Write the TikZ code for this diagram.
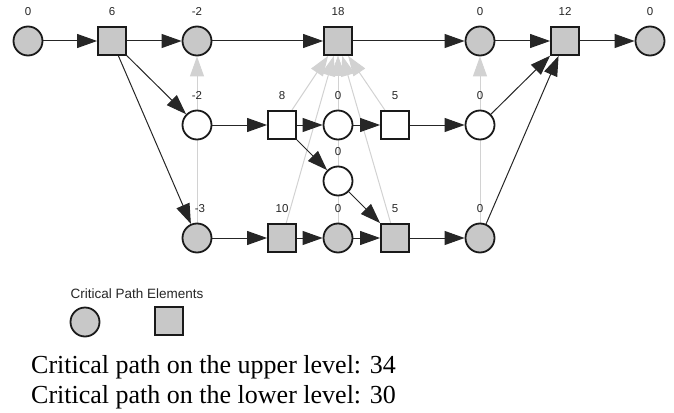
\documentclass[tikz,border=0pt]{standalone}
\usepackage{fontspec}
\setmainfont{Liberation Serif}
\newfontfamily\lblfont{Liberation Sans}
\usetikzlibrary{arrows.meta,backgrounds}
\definecolor{critfill}{RGB}{200,200,200}
\definecolor{softedge}{RGB}{210,210,210}
\definecolor{outline}{RGB}{26,26,26}

\begin{document}
\begin{tikzpicture}[x=1pt,y=1pt,
  place/.style={circle,draw=outline,line width=1.8pt,minimum size=29pt,inner sep=0pt,fill=white},
  trans/.style={rectangle,draw=outline,line width=1.8pt,minimum size=28pt,inner sep=0pt,fill=white},
  crit/.style={fill=critfill},
  tag/.style={font=\lblfont\fontsize{11.5}{12}\selectfont,inner sep=0pt,text=black!85},
  every label/.style={tag},
  label distance=10pt,
  flow/.style={draw=black!85,line width=1pt,-{Triangle[length=20pt,width=14pt]}},
  shadow/.style={draw=softedge,line width=1pt,-{Triangle[length=20pt,width=14pt]}}
]
\useasboundingbox (0,0) rectangle (674,-412);

% upper level
\node[place,crit,label=above:0]  (p1) at (28,-41) {};
\node[trans,crit,label=above:6]  (t1) at (112,-41) {};
\node[place,crit,label=above:-2] (p2) at (197,-41) {};
\node[trans,crit,label=above:18] (t2) at (338,-41) {};
\node[place,crit,label=above:0]  (p3) at (480,-41) {};
\node[trans,crit,label=above:12] (t3) at (565,-41) {};
\node[place,crit,label=above:0]  (p4) at (650,-41) {};

% middle level
\node[place,label=above:-2] (m1) at (197,-125) {};
\node[trans,label=above:8]  (m2) at (282,-125) {};
\node[place,label=above:0]  (m3) at (338,-125) {};
\node[trans,label=above:5]  (m4) at (395,-125) {};
\node[place,label=above:0]  (m5) at (480,-125) {};
\node[place,label=above:0]  (c1) at (338,-181) {};

% lower level
\node[place,crit,label={[xshift=3pt]above:-3}] (b1) at (197,-238) {};
\node[trans,crit,label=above:10] (b2) at (282,-238) {};
\node[place,crit,label=above:0]  (b3) at (338,-238) {};
\node[trans,crit,label=above:5]  (b4) at (395,-238) {};
\node[place,crit,label=above:0]  (b5) at (480,-238) {};

% legend
\node[tag,font=\lblfont\fontsize{13.5}{14}\selectfont] (legend) at (137,-294) {Critical Path Elements};
\node[place,crit] (lc) at (85,-322) {};
\node[trans,crit] (ls) at (169,-321) {};

% summary
\node[anchor=base west,inner sep=0pt,font=\fontsize{26}{30}\selectfont] (upper) at (31,-373) {Critical path on the upper level: 34};
\node[anchor=base west,inner sep=0pt,font=\fontsize{26}{30}\selectfont] (lower) at (31,-403) {Critical path on the lower level: 30};

% dependency edges in light grey, behind the nodes
\begin{pgfonlayer}{background}
  \draw[shadow] (b1) -- (p2);
  \draw[shadow] (b5) -- (p3);
  \draw[shadow] (m2) -- (t2);
  \draw[shadow] (m3) -- (t2);
  \draw[shadow] (m4) -- (t2);
  \draw[shadow] (b2) -- (t2);
  \draw[shadow] (b3) -- (t2);
  \draw[shadow] (b4) -- (t2);
\end{pgfonlayer}

% flow edges
\draw[flow] (p1) -- (t1);
\draw[flow] (t1) -- (p2);
\draw[flow] (p2) -- (t2);
\draw[flow] (t2) -- (p3);
\draw[flow] (p3) -- (t3);
\draw[flow] (t3) -- (p4);
\draw[flow] (t1) -- (m1);
\draw[flow] (t1) -- (b1);
\draw[flow] (m1) -- (m2);
\draw[flow] (m2) -- (m3);
\draw[flow] (m3) -- (m4);
\draw[flow] (m4) -- (m5);
\draw[flow] (m5) -- (t3);
\draw[flow] (m2) -- (c1);
\draw[flow] (c1) -- (b4);
\draw[flow] (b1) -- (b2);
\draw[flow] (b2) -- (b3);
\draw[flow] (b3) -- (b4);
\draw[flow] (b4) -- (b5);
\draw[flow] (b5) -- (t3);
\end{tikzpicture}
\end{document}
